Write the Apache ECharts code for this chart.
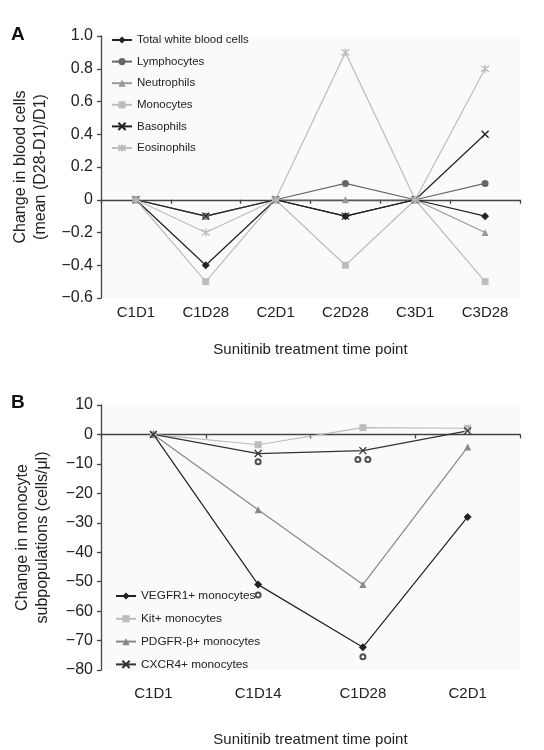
<!DOCTYPE html>
<html><head><meta charset="utf-8">
<script src="https://cdn.jsdelivr.net/npm/echarts@6/dist/echarts.min.js"></script>
<style>html,body{margin:0;padding:0;background:#fff}#c{width:544px;height:750px}</style>
</head><body><div id="c"></div>
<script>
// Panel A data
const catsA = ['C1D1','C1D28','C2D1','C2D28','C3D1','C3D28'];
const namesA = ['Total white blood cells','Lymphocytes','Neutrophils','Monocytes','Basophils','Eosinophils'];
const wbc = [0, -0.4, 0, -0.1, 0, -0.1];
const lymph = [0, -0.1, 0, 0.1, 0, 0.1];
const neut = [0, -0.1, 0, 0, 0, -0.2];
const mono = [0, -0.5, 0, -0.4, 0, -0.5];
const baso = [0, -0.1, 0, -0.1, 0, 0.4];
const eos = [0, -0.2, 0, 0.9, 0, 0.8];
// Panel B data
const catsB = ['C1D1','C1D14','C1D28','C2D1'];
const namesB = ['VEGFR1+ monocytes','Kit+ monocytes','PDGFR-\u03b2+ monocytes','CXCR4+ monocytes'];
const vegfr1 = [0, -51, -72.3, -28];
const kit = [0, -3.5, 2.3, 2.1];
const pdgfr = [0, -25.6, -51, -4.3];
const cxcr4 = [0, -6.5, -5.5, 1.2];
// significance markers (category, value, horizontal offset px)
const sigCats = ['C1D14','C1D28','C1D28','C1D14','C1D28'];
const sigVals = [-9.3, -8.5, -8.5, -54.5, -75.5];
const sigOffs = [0, -5, 5, 0, 0];

const FONT = 'Liberation Sans, Arial, sans-serif';
const XPATH = 'path://M0,0 L10,10 M10,0 L0,10';
const STARPATH = 'path://M0,0 L10,10 M10,0 L0,10 M5,-1.5 L5,11.5';
const fmt = v => v === 0 ? '0' : String(v).replace('-', '\u2212');
const fmtA = v => Math.abs(v) < 1e-9 ? '0' : v.toFixed(1).replace('-', '\u2212');

function ser(name, data, color, symbol, size, xi, yi, stroke) {
  return {
    name, type: 'line', data, xAxisIndex: xi, yAxisIndex: yi,
    symbol, symbolSize: size, showAllSymbol: true,
    lineStyle: {color, width: 1.2},
    itemStyle: stroke ? {color, borderColor: color, borderWidth: 1.3} : {color},
    emphasis: {disabled: true}, z: 3
  };
}

const axisLineStyle = {color: '#444', width: 1.3};
const chart = echarts.init(document.getElementById('c'));
chart.setOption({
  animation: false,
  textStyle: {fontFamily: FONT},
  title: [
    {text: 'A', left: 6, top: 20, textStyle: {fontSize: 19, fontWeight: 'bold', color: '#111', fontFamily: FONT}},
    {text: 'B', left: 6, top: 388, textStyle: {fontSize: 19, fontWeight: 'bold', color: '#111', fontFamily: FONT}}
  ],
  grid: [
    {left: 101, right: 24, top: 36, height: 262, show: true, backgroundColor: '#fafafa', borderWidth: 0},
    {left: 101, right: 24, top: 405, height: 265, show: true, backgroundColor: '#fafafa', borderWidth: 0}
  ],
  legend: [
    {data: namesA.map(n => ({name: n})), orient: 'vertical', left: 106, top: 29, itemWidth: 20, itemHeight: 9, itemGap: 9.6,
     textStyle: {fontSize: 11.5, color: '#222', fontFamily: FONT}},
    {data: namesB.map(n => ({name: n})), orient: 'vertical', left: 110, top: 585, itemWidth: 20, itemHeight: 9, itemGap: 10.8,
     textStyle: {fontSize: 11.8, color: '#222', fontFamily: FONT}}
  ],
  xAxis: [
    {gridIndex: 0, type: 'category', data: catsA, position: 'bottom', axisLine: {show: false, onZero: false}, axisTick: {show: false},
     axisLabel: {fontSize: 15, color: '#222', margin: 7},
     name: 'Sunitinib treatment time point', nameLocation: 'middle', nameGap: 44, nameTextStyle: {fontSize: 15, color: '#222'}},
    {gridIndex: 0, type: 'category', data: catsA, position: 'top', axisLine: {show: true, onZero: true, lineStyle: axisLineStyle},
     axisTick: {show: true, inside: true, length: 4, lineStyle: axisLineStyle}, axisLabel: {show: false}},
    {gridIndex: 1, type: 'category', data: catsB, position: 'bottom', axisLine: {show: false, onZero: false}, axisTick: {show: false},
     axisLabel: {fontSize: 15, color: '#222', margin: 16},
     name: 'Sunitinib treatment time point', nameLocation: 'middle', nameGap: 62, nameTextStyle: {fontSize: 15, color: '#222'}},
    {gridIndex: 1, type: 'category', data: catsB, position: 'top', axisLine: {show: true, onZero: true, lineStyle: axisLineStyle},
     axisTick: {show: true, inside: true, length: 4, lineStyle: axisLineStyle}, axisLabel: {show: false}}
  ],
  yAxis: [
    {gridIndex: 0, type: 'value', min: -0.6, max: 1.0, interval: 0.2,
     axisLine: {show: true, lineStyle: axisLineStyle}, axisTick: {show: true, length: 4, lineStyle: axisLineStyle},
     splitLine: {show: false}, axisLabel: {fontSize: 16, color: '#222', margin: 8, formatter: fmtA},
     name: 'Change in blood cells\n(mean (D28-D1)/D1)', nameLocation: 'middle', nameRotate: 90, nameGap: 48,
     nameTextStyle: {fontSize: 16, color: '#222', lineHeight: 20}},
    {gridIndex: 1, type: 'value', min: -80, max: 10, interval: 10,
     axisLine: {show: true, lineStyle: axisLineStyle}, axisTick: {show: true, length: 4, lineStyle: axisLineStyle},
     splitLine: {show: false}, axisLabel: {fontSize: 16, color: '#222', margin: 8, formatter: fmt},
     name: 'Change in monocyte\nsubpopulations (cells/\u03bcl)', nameLocation: 'middle', nameRotate: 90, nameGap: 48,
     nameTextStyle: {fontSize: 16, color: '#222', lineHeight: 20}}
  ],
  series: [
    ser(namesA[0], wbc, '#222', 'diamond', 8, 0, 0),
    ser(namesA[1], lymph, '#666', 'circle', 7, 0, 0),
    ser(namesA[2], neut, '#999', 'triangle', 7, 0, 0),
    ser(namesA[3], mono, '#bdbdbd', 'rect', 7, 0, 0),
    ser(namesA[4], baso, '#222', XPATH, 7, 0, 0, true),
    ser(namesA[5], eos, '#bdbdbd', STARPATH, 8, 0, 0, true),
    ser(namesB[0], vegfr1, '#222', 'diamond', 8, 2, 1),
    ser(namesB[1], kit, '#bdbdbd', 'rect', 7, 2, 1),
    ser(namesB[2], pdgfr, '#888', 'triangle', 7, 2, 1),
    ser(namesB[3], cxcr4, '#333', XPATH, 7, 2, 1, true),
    {type: 'scatter', xAxisIndex: 2, yAxisIndex: 1, symbol: 'emptyCircle', symbolSize: 5,
     itemStyle: {color: '#222', borderColor: '#222', borderWidth: 1.2}, emphasis: {disabled: true}, z: 4,
     data: sigCats.map((c, i) => ({value: [c, sigVals[i]], symbolOffset: [sigOffs[i], 0]}))}
  ]
});
</script></body></html>
